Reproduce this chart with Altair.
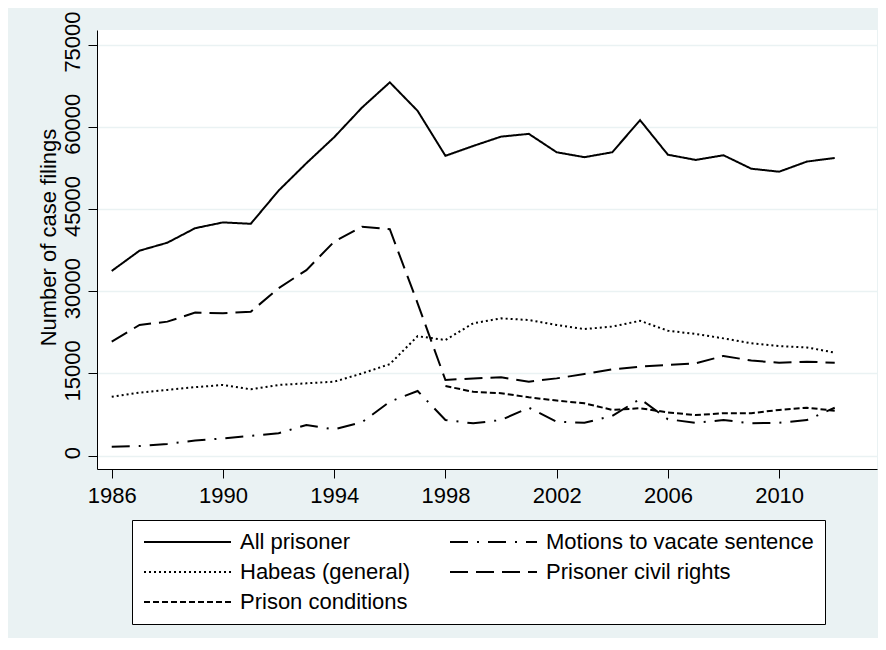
import altair as alt
import pandas as pd

years = list(range(1986, 2013))
all_prisoner = [33700, 37400, 38850, 41500, 42550, 42300, 48350, 53350, 58100,
                63500, 68100, 62900, 54700, 56500, 58200, 58700, 55350, 54450,
                55350, 61200, 54900, 53950, 54800, 52350, 51800, 53650, 54300]
motions_vacate = [1650, 1750, 2150, 2750, 3150, 3600, 4100, 5600, 4800,
                  6100, 9850, 11800, 6500, 5900, 6500, 8750, 6200, 6000,
                  7250, 10350, 6650, 6000, 6500, 5900, 6000, 6500, 8750]
habeas_general = [10750, 11500, 12000, 12500, 12900, 12100, 12900, 13200, 13500,
                  15000, 16700, 21800, 21100, 24150, 25050, 24750, 23850, 23100,
                  23550, 24600, 22800, 22200, 21400, 20500, 20000, 19750, 18800]
civil_rights = [20800, 23850, 24450, 26100, 26000, 26250, 30550, 33850, 39050,
                41750, 41300, 27800, 13800, 14100, 14300, 13500, 14100, 14900,
                15750, 16250, 16550, 16850, 18200, 17350, 16950, 17150, 16950]
cond_years = list(range(1998, 2013))
prison_conditions = [12700, 11650, 11400, 10650, 10050, 9550, 8350, 8650,
                     7900, 7400, 7750, 7750, 8350, 8750, 8200]

# legend fills column by column: left column first, then right column
series_order = ["All prisoner", "Habeas (general)", "Prison conditions",
                "Motions to vacate sentence", "Prisoner civil rights"]
dashes = [[1, 0], [2, 3], [6, 3], [18, 9, 2, 9], [18, 8]]
x_ticks = [1986, 1990, 1994, 1998, 2002, 2006, 2010]
y_ticks = [0, 15000, 30000, 45000, 60000, 75000]

rows = []
for name, ys, vals in [
    ("All prisoner", years, all_prisoner),
    ("Motions to vacate sentence", years, motions_vacate),
    ("Habeas (general)", years, habeas_general),
    ("Prisoner civil rights", years, civil_rights),
    ("Prison conditions", cond_years, prison_conditions),
]:
    for yr, v in zip(ys, vals):
        rows.append({"year": yr, "value": v, "series": name})
df = pd.DataFrame(rows)

FONT = "Liberation Sans"
BG = "#EAF2F3"

chart = alt.Chart(df).mark_line(strokeWidth=2, color="black").encode(
    x=alt.X("year:Q",
            scale=alt.Scale(domain=[1985.47, 2013.52], nice=False, zero=False),
            axis=alt.Axis(values=x_ticks, format="d", title=None, grid=False,
                          tickSize=9, tickColor="black", domainColor="black",
                          labelFont=FONT, labelFontSize=22, labelColor="black",
                          labelPadding=7)),
    y=alt.Y("value:Q",
            scale=alt.Scale(domain=[-2430, 77650], nice=False, zero=False),
            axis=alt.Axis(values=y_ticks, format="d", title="Number of case filings",
                          grid=True, gridColor=BG, gridWidth=1.5,
                          tickSize=9, tickColor="black", domainColor="black",
                          labelFont=FONT, labelFontSize=22, labelColor="black",
                          labelAngle=270, labelAlign="center", labelBaseline="alphabetic",
                          labelPadding=9, labelOffset=-3,
                          titleFont=FONT, titleFontSize=22, titleFontWeight="normal",
                          titleColor="black", titleAngle=270, titleAlign="center",
                          titleBaseline="alphabetic", titleX=-42, titleY=207)),
    strokeDash=alt.StrokeDash("series:N",
                              scale=alt.Scale(domain=series_order, range=dashes),
                              legend=alt.Legend(title=None, orient="none",
                                                legendX=35, legendY=490,
                                                columns=2, symbolType="stroke",
                                                symbolSize=7569, symbolStrokeWidth=2,
                                                symbolStrokeColor="black",
                                                labelFont=FONT, labelFontSize=22,
                                                labelColor="black", labelOffset=8,
                                                labelLimit=400,
                                                columnPadding=39, rowPadding=8,
                                                padding=11, clipHeight=22,
                                                strokeColor="black", fillColor="white")),
).properties(
    width=780, height=439,
    autosize=alt.AutoSizeParams(type="none"),
    padding={"left": 89, "top": 22, "right": 1, "bottom": 169},
    background=BG,
).configure_view(fill="white", stroke=None)

chart.save("out.html", embed_options={"renderer": "svg", "actions": False})
